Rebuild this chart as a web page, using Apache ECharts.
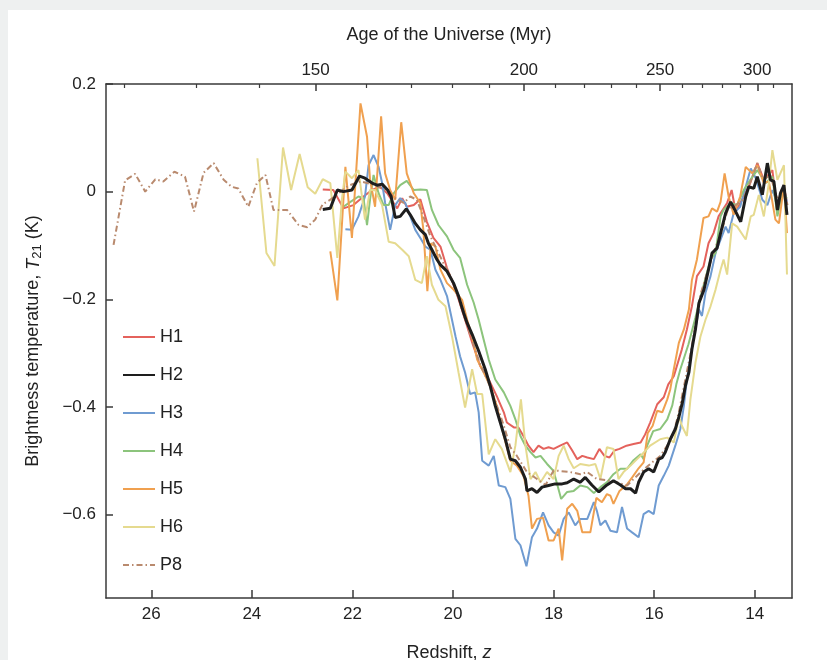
<!DOCTYPE html>
<html>
<head>
<meta charset="utf-8">
<script src="https://cdn.jsdelivr.net/npm/echarts@6/dist/echarts.min.js"></script>
<style>
  html, body { margin: 0; padding: 0; background: #eef0f0; }
  #panel { position: absolute; left: 8px; top: 10px; right: 0; bottom: 0; background: #fff; }
  #chart { position: absolute; left: 0; top: 0; width: 827px; height: 660px; }
</style>
</head>
<body>
<div id="panel"></div>
<div id="chart"></div>
<script>
// [redshift z, T21 (K)]
var h1 = [[22.59,0.004],[22.38,0.003],[22.18,-0.031],[21.98,-0.025],[21.78,-0.009],[21.61,0.003],[21.45,0.009],[21.31,-0.003],[21.11,-0.031],[21.01,-0.012],[20.92,-0.028],[20.78,-0.025],[20.65,-0.014],[20.52,-0.056],[20.39,-0.086],[20.25,-0.102],[20.12,-0.142],[19.99,-0.173],[19.90,-0.197],[19.76,-0.238],[19.62,-0.280],[19.46,-0.324],[19.29,-0.349],[19.13,-0.380],[18.99,-0.410],[18.93,-0.429],[18.79,-0.438],[18.70,-0.438],[18.60,-0.454],[18.50,-0.472],[18.40,-0.484],[18.30,-0.472],[18.20,-0.478],[18.10,-0.475],[18.00,-0.478],[17.87,-0.472],[17.73,-0.466],[17.63,-0.481],[17.53,-0.497],[17.43,-0.491],[17.33,-0.494],[17.20,-0.497],[17.09,-0.478],[16.99,-0.491],[16.89,-0.494],[16.79,-0.481],[16.69,-0.478],[16.55,-0.472],[16.41,-0.469],[16.27,-0.466],[16.18,-0.451],[16.08,-0.429],[15.94,-0.395],[15.81,-0.382],[15.72,-0.358],[15.61,-0.343],[15.45,-0.293],[15.35,-0.256],[15.25,-0.213],[15.15,-0.157],[15.02,-0.139],[14.92,-0.096],[14.82,-0.077],[14.72,-0.046],[14.55,-0.021],[14.46,0.003],[14.38,-0.037],[14.22,-0.009],[14.09,0.016],[13.95,0.053],[13.82,0.022],[13.65,0.040],[13.55,-0.040],[13.42,0.009],[13.36,-0.021]];

var h2 = [[22.59,-0.033],[22.44,-0.031],[22.30,0.003],[22.18,0.0],[22.01,0.003],[21.86,0.029],[21.75,0.025],[21.61,0.016],[21.51,0.012],[21.41,0.014],[21.30,0.003],[21.23,-0.009],[21.15,-0.048],[21.05,-0.046],[20.93,-0.032],[20.85,-0.043],[20.75,-0.059],[20.65,-0.071],[20.55,-0.080],[20.49,-0.096],[20.42,-0.108],[20.32,-0.126],[20.25,-0.136],[20.12,-0.148],[19.99,-0.170],[19.89,-0.194],[19.79,-0.225],[19.72,-0.244],[19.62,-0.265],[19.49,-0.296],[19.36,-0.330],[19.26,-0.361],[19.16,-0.398],[19.06,-0.429],[18.96,-0.460],[18.86,-0.497],[18.76,-0.500],[18.66,-0.512],[18.56,-0.534],[18.53,-0.556],[18.43,-0.552],[18.33,-0.559],[18.23,-0.549],[18.10,-0.546],[17.97,-0.543],[17.83,-0.543],[17.73,-0.541],[17.60,-0.534],[17.47,-0.540],[17.37,-0.531],[17.24,-0.545],[17.10,-0.558],[16.94,-0.545],[16.81,-0.537],[16.67,-0.545],[16.57,-0.552],[16.47,-0.552],[16.37,-0.560],[16.31,-0.540],[16.21,-0.521],[16.11,-0.515],[16.01,-0.521],[15.91,-0.497],[15.84,-0.494],[15.78,-0.484],[15.68,-0.460],[15.58,-0.441],[15.51,-0.419],[15.44,-0.392],[15.38,-0.361],[15.31,-0.336],[15.25,-0.293],[15.18,-0.256],[15.11,-0.207],[15.01,-0.182],[14.92,-0.145],[14.85,-0.114],[14.75,-0.105],[14.68,-0.077],[14.58,-0.040],[14.48,-0.019],[14.38,-0.037],[14.28,-0.056],[14.18,-0.009],[14.12,0.009],[14.02,0.006],[13.95,0.028],[13.85,-0.006],[13.75,0.053],[13.69,0.022],[13.62,0.019],[13.55,-0.034],[13.49,-0.003],[13.42,0.012],[13.36,-0.043]];

var h3 = [[22.14,-0.070],[22.01,-0.071],[21.88,-0.046],[21.75,-0.009],[21.68,0.049],[21.58,0.068],[21.48,0.046],[21.41,0.016],[21.35,-0.021],[21.25,-0.071],[21.15,-0.025],[21.05,-0.012],[20.95,-0.021],[20.85,-0.046],[20.75,-0.071],[20.65,-0.086],[20.55,-0.102],[20.45,-0.108],[20.35,-0.145],[20.25,-0.164],[20.12,-0.194],[20.05,-0.225],[19.95,-0.269],[19.86,-0.306],[19.76,-0.336],[19.66,-0.376],[19.56,-0.373],[19.49,-0.410],[19.42,-0.500],[19.29,-0.509],[19.19,-0.491],[19.09,-0.546],[18.96,-0.549],[18.86,-0.571],[18.76,-0.645],[18.66,-0.657],[18.54,-0.696],[18.43,-0.642],[18.33,-0.626],[18.21,-0.596],[18.10,-0.620],[18.00,-0.633],[17.90,-0.639],[17.80,-0.608],[17.70,-0.596],[17.57,-0.620],[17.47,-0.608],[17.33,-0.608],[17.20,-0.577],[17.14,-0.593],[17.07,-0.620],[16.97,-0.611],[16.87,-0.630],[16.74,-0.633],[16.64,-0.586],[16.54,-0.626],[16.44,-0.633],[16.31,-0.642],[16.21,-0.599],[16.11,-0.593],[16.01,-0.599],[15.91,-0.546],[15.81,-0.528],[15.71,-0.509],[15.58,-0.472],[15.48,-0.441],[15.41,-0.398],[15.35,-0.349],[15.24,-0.284],[15.11,-0.219],[15.05,-0.231],[14.98,-0.188],[14.88,-0.157],[14.78,-0.114],[14.68,-0.089],[14.58,-0.065],[14.52,-0.077],[14.42,-0.040],[14.29,-0.028],[14.18,0.009],[14.08,0.043],[13.98,0.025],[13.85,-0.015],[13.75,-0.025],[13.65,0.003],[13.55,-0.021],[13.42,0.003],[13.36,-0.019]];

var h4 = [[22.18,-0.028],[22.04,-0.019],[21.88,-0.009],[21.78,-0.012],[21.71,-0.062],[21.65,-0.015],[21.58,0.031],[21.48,-0.003],[21.38,-0.025],[21.28,-0.025],[21.18,-0.003],[21.05,0.012],[20.92,0.020],[20.78,0.003],[20.65,0.004],[20.52,0.003],[20.42,-0.034],[20.29,-0.062],[20.12,-0.083],[19.99,-0.108],[19.86,-0.123],[19.72,-0.173],[19.59,-0.206],[19.49,-0.238],[19.39,-0.275],[19.29,-0.312],[19.16,-0.349],[18.99,-0.373],[18.86,-0.398],[18.76,-0.423],[18.66,-0.454],[18.56,-0.472],[18.46,-0.484],[18.36,-0.494],[18.26,-0.491],[18.13,-0.506],[18.00,-0.519],[17.85,-0.571],[17.73,-0.558],[17.60,-0.556],[17.47,-0.546],[17.33,-0.549],[17.20,-0.560],[17.07,-0.549],[16.94,-0.540],[16.81,-0.525],[16.67,-0.515],[16.54,-0.515],[16.41,-0.499],[16.27,-0.488],[16.21,-0.497],[16.14,-0.472],[16.02,-0.445],[15.88,-0.441],[15.74,-0.423],[15.64,-0.397],[15.56,-0.358],[15.48,-0.330],[15.32,-0.284],[15.18,-0.234],[15.04,-0.182],[14.88,-0.126],[14.78,-0.114],[14.68,-0.046],[14.62,-0.034],[14.48,-0.021],[14.35,-0.025],[14.22,0.003],[14.09,0.022],[13.95,0.040],[13.78,0.016],[13.65,0.028],[13.55,-0.046],[13.46,-0.003],[13.36,-0.012]];

var h5 = [[22.44,-0.111],[22.30,-0.202],[22.14,0.046],[22.01,-0.086],[21.84,0.164],[21.71,0.102],[21.65,0.022],[21.55,-0.028],[21.43,0.140],[21.35,0.034],[21.25,0.003],[21.15,-0.015],[21.03,0.129],[20.92,0.034],[20.78,-0.003],[20.65,-0.021],[20.59,-0.071],[20.51,-0.185],[20.44,-0.096],[20.35,-0.102],[20.25,-0.145],[20.12,-0.170],[19.99,-0.182],[19.82,-0.201],[19.72,-0.238],[19.62,-0.269],[19.52,-0.312],[19.39,-0.336],[19.26,-0.361],[19.13,-0.398],[18.99,-0.454],[18.86,-0.500],[18.73,-0.509],[18.60,-0.528],[18.50,-0.565],[18.43,-0.626],[18.33,-0.608],[18.21,-0.606],[18.10,-0.648],[18.00,-0.648],[17.90,-0.626],[17.83,-0.685],[17.73,-0.589],[17.63,-0.580],[17.53,-0.593],[17.43,-0.633],[17.27,-0.633],[17.15,-0.569],[17.04,-0.577],[16.94,-0.562],[16.87,-0.565],[16.81,-0.580],[16.69,-0.556],[16.55,-0.545],[16.43,-0.530],[16.31,-0.514],[16.21,-0.503],[16.13,-0.449],[16.03,-0.435],[15.94,-0.407],[15.84,-0.410],[15.74,-0.386],[15.68,-0.367],[15.61,-0.330],[15.51,-0.281],[15.41,-0.256],[15.31,-0.219],[15.25,-0.164],[15.15,-0.126],[15.02,-0.049],[14.92,-0.046],[14.85,-0.031],[14.75,-0.037],[14.68,-0.019],[14.60,0.034],[14.52,-0.009],[14.42,-0.043],[14.29,-0.009],[14.18,0.046],[14.05,0.034],[13.95,0.049],[13.82,0.016],[13.72,0.019],[13.59,-0.052],[13.52,-0.059],[13.42,0.012],[13.36,-0.077]];

var h6 = [[23.89,0.062],[23.71,-0.114],[23.55,-0.138],[23.38,0.082],[23.22,0.003],[23.05,0.070],[22.89,0.008],[22.74,-0.004],[22.59,0.023],[22.44,0.016],[22.30,-0.123],[22.21,-0.015],[22.14,0.037],[22.01,0.025],[21.88,0.040],[21.75,-0.052],[21.65,0.003],[21.55,0.003],[21.41,-0.025],[21.28,-0.093],[21.15,-0.096],[21.01,-0.108],[20.88,-0.120],[20.75,-0.164],[20.62,-0.170],[20.52,-0.120],[20.42,-0.173],[20.29,-0.201],[20.15,-0.213],[20.02,-0.269],[19.89,-0.336],[19.76,-0.401],[19.62,-0.330],[19.52,-0.376],[19.42,-0.376],[19.29,-0.488],[19.16,-0.460],[19.03,-0.478],[18.86,-0.521],[18.76,-0.472],[18.65,-0.386],[18.56,-0.472],[18.46,-0.534],[18.36,-0.521],[18.26,-0.540],[18.13,-0.521],[18.00,-0.534],[17.90,-0.491],[17.80,-0.472],[17.70,-0.497],[17.60,-0.514],[17.47,-0.506],[17.30,-0.509],[17.17,-0.506],[17.07,-0.534],[16.94,-0.475],[16.81,-0.478],[16.71,-0.534],[16.61,-0.521],[16.47,-0.509],[16.34,-0.497],[16.24,-0.488],[16.08,-0.472],[15.88,-0.460],[15.74,-0.457],[15.61,-0.466],[15.51,-0.417],[15.45,-0.435],[15.35,-0.454],[15.28,-0.386],[15.18,-0.318],[15.08,-0.269],[14.98,-0.238],[14.88,-0.213],[14.78,-0.182],[14.68,-0.145],[14.62,-0.126],[14.55,-0.154],[14.45,-0.059],[14.35,-0.065],[14.18,-0.089],[14.08,-0.046],[14.02,-0.043],[13.92,-0.006],[13.82,-0.046],[13.72,0.016],[13.65,0.077],[13.55,0.022],[13.42,0.049],[13.36,-0.154]];

var p8 = [[26.75,-0.099],[26.52,0.021],[26.32,0.033],[26.12,0.0],[25.92,0.023],[25.76,0.019],[25.54,0.037],[25.33,0.028],[25.15,-0.037],[24.96,0.035],[24.76,0.053],[24.56,0.022],[24.40,0.009],[24.27,0.006],[24.07,-0.028],[23.90,0.016],[23.73,0.031],[23.57,-0.034],[23.30,-0.034],[23.07,-0.062],[22.90,-0.066],[22.74,-0.052],[22.59,-0.023],[22.44,-0.015],[22.28,-0.003],[22.08,0.011],[21.84,0.019],[21.71,0.016],[21.55,0.012],[21.35,0.003],[21.15,-0.012],[20.98,-0.021],[20.85,-0.009],[20.72,-0.015],[20.59,-0.046],[20.45,-0.083],[20.32,-0.108],[20.19,-0.133],[20.05,-0.157],[19.95,-0.182],[19.82,-0.219],[19.66,-0.265],[19.46,-0.321],[19.32,-0.349],[19.16,-0.389],[19.00,-0.432],[18.86,-0.475],[18.73,-0.491],[18.53,-0.521],[18.33,-0.534],[18.16,-0.545],[18.00,-0.518],[17.87,-0.519],[17.67,-0.521],[17.47,-0.525],[17.33,-0.521],[17.14,-0.534],[16.95,-0.536],[16.74,-0.540],[16.54,-0.546],[16.41,-0.534],[16.24,-0.519],[16.08,-0.506],[15.88,-0.491],[15.74,-0.472],[15.61,-0.447],[15.51,-0.410],[15.40,-0.358],[15.28,-0.302],[15.18,-0.247],[15.08,-0.191],[14.96,-0.154],[14.81,-0.111],[14.68,-0.080],[14.54,-0.034],[14.38,-0.025],[14.24,-0.015],[14.11,0.012],[13.95,0.053],[13.83,0.022],[13.69,0.031],[13.55,-0.015],[13.43,0.012],[13.35,-0.025]];

var zTicks = [14, 16, 18, 20, 22, 24, 26];
var tTicks = [-0.6, -0.4, -0.2, 0, 0.2];
var ageMajor = [150, 200, 250, 300];
var ageMinor = [120, 130, 140, 160, 170, 180, 190, 210, 220, 230, 240, 260, 270, 280, 290, 310];

// 年龄 (Myr) 与红移的换算，物质主导近似 t ∝ (1+z)^-1.5
var AGE_K = 670;
function ageToZ(t) { return AGE_K * Math.pow(t, -2 / 3) - 1; }
function zToAge(z) { return Math.round(Math.pow(AGE_K / (1 + z), 1.5)); }

var FONT = 'Liberation Sans';
var TXT = '#222';
var AXIS = '#3a3a3a';
var Z_MIN = 13.26, Z_MAX = 26.9;

function fmtT(v) {
    if (Math.abs(v) < 1e-9) return '0';
    return (v < 0 ? '\u2212' : '') + Math.abs(v).toFixed(1);
}

var chart = echarts.init(document.getElementById('chart'));

var option = {
    animation: false,
    textStyle: { fontFamily: FONT },
    grid: { left: 106, right: 35, top: 84, bottom: 62, containLabel: false, outerBoundsMode: 'none' },
    legend: {
        orient: 'vertical',
        left: 122,
        top: 326,
        padding: 0,
        itemWidth: 32,
        itemHeight: 14,
        itemGap: 16,
        itemStyle: { opacity: 0 },
        textStyle: { fontFamily: FONT, fontSize: 18, color: TXT, lineHeight: 22 },
        data: ['H1', 'H2', 'H3', 'H4', 'H5', 'H6', 'P8']
    },
    xAxis: [
        {
            type: 'value', position: 'bottom', inverse: true, min: Z_MIN, max: Z_MAX,
            name: '{a|Redshift, }{i|z}', nameLocation: 'middle', nameGap: 46,
            nameTextStyle: {
                rich: {
                    a: { fontFamily: FONT, fontSize: 18, color: TXT },
                    i: { fontFamily: FONT, fontSize: 18, color: TXT, fontStyle: 'italic' }
                }
            },
            axisLine: { onZero: false, lineStyle: { color: AXIS, width: 1.5 } },
            axisTick: { inside: true, length: 8, customValues: zTicks, lineStyle: { color: AXIS, width: 1.5 } },
            axisLabel: { customValues: zTicks, margin: 8, fontSize: 17, color: TXT, fontFamily: FONT },
            splitLine: { show: false }
        },
        {
            type: 'value', position: 'top', inverse: true, min: Z_MIN, max: Z_MAX,
            name: 'Age of the Universe (Myr)', nameLocation: 'middle', nameGap: 40,
            nameTextStyle: { fontFamily: FONT, fontSize: 18, color: TXT },
            axisLine: { onZero: false, lineStyle: { color: AXIS, width: 1.5 } },
            axisTick: { inside: true, length: 7, customValues: ageMajor.map(ageToZ), lineStyle: { color: AXIS, width: 1.5 } },
            axisLabel: {
                customValues: ageMajor.map(ageToZ), margin: 5, fontSize: 17, color: TXT, fontFamily: FONT,
                formatter: function (v) { return String(zToAge(v)); }
            },
            splitLine: { show: false }
        },
        {
            type: 'value', position: 'top', inverse: true, min: Z_MIN, max: Z_MAX,
            axisLine: { show: false, onZero: false },
            axisTick: { inside: true, length: 4, customValues: ageMinor.map(ageToZ), lineStyle: { color: AXIS, width: 1.2 } },
            axisLabel: { show: false },
            splitLine: { show: false }
        }
    ],
    yAxis: [
        {
            type: 'value', position: 'left', min: -0.755, max: 0.2,
            name: '{a|Brightness temperature, }{i|T}{s|21}{a| (K)}',
            nameLocation: 'middle', nameGap: 62, nameRotate: 90,
            nameTextStyle: {
                rich: {
                    a: { fontFamily: FONT, fontSize: 18, color: TXT },
                    i: { fontFamily: FONT, fontSize: 18, color: TXT, fontStyle: 'italic' },
                    s: { fontFamily: FONT, fontSize: 13, color: TXT, verticalAlign: 'bottom', padding: [8, 0, 0, 0] }
                }
            },
            axisLine: { onZero: false, lineStyle: { color: AXIS, width: 1.5 } },
            axisTick: { inside: true, length: 7, customValues: tTicks, lineStyle: { color: AXIS, width: 1.5 } },
            axisLabel: { customValues: tTicks, margin: 10, fontSize: 17, color: TXT, fontFamily: FONT, formatter: fmtT },
            splitLine: { show: false }
        },
        {
            type: 'value', position: 'right', min: -0.755, max: 0.2,
            axisLine: { show: true, onZero: false, lineStyle: { color: AXIS, width: 1.5 } },
            axisTick: { show: false },
            axisLabel: { show: false },
            splitLine: { show: false }
        }
    ],
    series: [
        { name: 'H1', data: h1, color: '#e4625c', width: 2 },
        { name: 'H3', data: h3, color: '#6f9bd1', width: 2 },
        { name: 'H4', data: h4, color: '#8cc47c', width: 2 },
        { name: 'H5', data: h5, color: '#f0a04f', width: 2 },
        { name: 'H6', data: h6, color: '#e5da8f', width: 2 },
        { name: 'P8', data: p8, color: '#b98a6e', width: 2, dash: [6, 3, 1.5, 3] },
        { name: 'H2', data: h2, color: '#1e1e1e', width: 3 }
    ].map(function (s) {
        return {
            name: s.name,
            type: 'line',
            data: s.data,
            symbol: 'none',
            color: s.color,
            lineStyle: { color: s.color, width: s.width, type: s.dash || 'solid' },
            emphasis: { disabled: true }
        };
    })
};

chart.setOption(option);
</script>
</body>
</html>
